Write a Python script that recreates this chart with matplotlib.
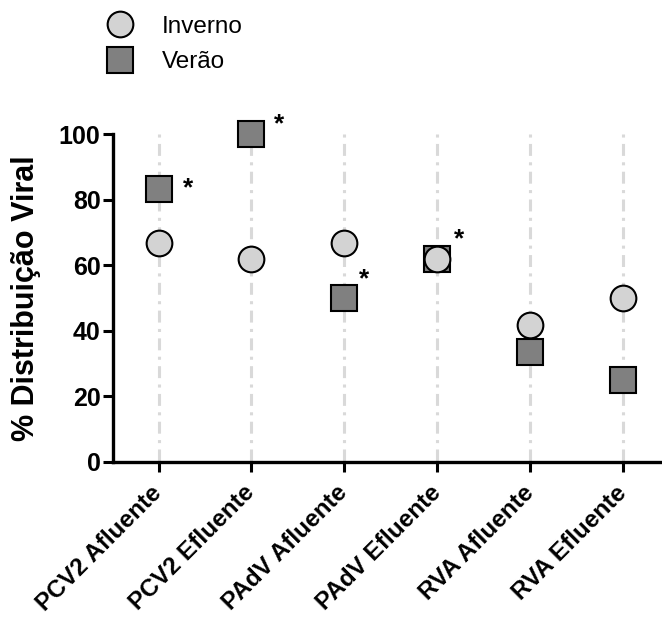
import matplotlib

matplotlib.use("Agg")
import matplotlib.pyplot as plt
from matplotlib.lines import Line2D

plt.rcParams["font.family"] = ["Liberation Sans", "DejaVu Sans"]
plt.rcParams["lines.scale_dashes"] = False

# % de distribuição viral por amostra e estação
categorias = ["PCV2 Afluente", "PCV2 Efluente", "PAdV Afluente",
              "PAdV Efluente", "RVA Afluente", "RVA Efluente"]
inverno = [66.7, 61.9, 66.7, 61.9, 41.7, 50.0]
verao = [83.3, 100.0, 50.0, 61.9, 33.3, 25.0]
# diferença significativa (*) no verão
signif = [True, True, True, True, False, False]
star_offsets = [(21, 0), (20, 7), (14, 13), (16, 14)]  # pontos

x = list(range(len(categorias)))

fig = plt.figure(figsize=(6.62, 6.19), dpi=100)
ax = fig.add_axes([0.1707, 0.2544, 0.8293, 0.5291])

# linhas guia traço-ponto em cada categoria
ax.vlines(x, 100, 0, colors="#d9d9d9", linewidth=2.2,
          linestyles=[(0, (2.2, 4.6, 8.6, 4.6))], zorder=1)

ax.plot(x, verao, ls="none", marker="s", ms=18.5, mfc="#808080", mec="black",
        mew=1.5, clip_on=False, zorder=3)
ax.plot(x, inverno, ls="none", marker="o", ms=18.5, mfc="#d3d3d3", mec="black",
        mew=1.5, clip_on=False, zorder=4)

k = 0
for xi, yi, s in zip(x, verao, signif):
    if s:
        ax.annotate("*", (xi, yi), xytext=star_offsets[k], textcoords="offset points",
                    ha="center", va="center", fontsize=19, fontweight="bold",
                    annotation_clip=False)
        k += 1

ax.set_xlim(-0.49, 5.42)
ax.set_ylim(0, 100)
ax.set_yticks([0, 20, 40, 60, 80, 100])
ax.set_xticks(x)
ax.set_xticklabels(categorias, rotation=45, ha="right", va="center",
                   rotation_mode="anchor")
for lab in ax.get_xticklabels():
    lab.set_fontsize(17.5)
    lab.set_fontweight("bold")
for lab in ax.get_yticklabels():
    lab.set_fontsize(18)
    lab.set_fontweight("bold")
ax.tick_params(width=2.2, length=7, pad=2)
ax.tick_params(axis="x", pad=13)
ax.spines["top"].set_visible(False)
ax.spines["right"].set_visible(False)
ax.spines["left"].set_linewidth(2.4)
ax.spines["bottom"].set_linewidth(2.4)
ax.set_ylabel("% Distribuição Viral", fontsize=22, fontweight="bold", labelpad=13)

handles = [
    Line2D([], [], ls="none", marker="o", ms=18.5, mfc="#d3d3d3", mec="black", mew=1.5),
    Line2D([], [], ls="none", marker="s", ms=18.5, mfc="#808080", mec="black", mew=1.5),
]
fig.legend(handles, ["Inverno", "Verão"], loc="upper left",
           bbox_to_anchor=(0.12, 1.01), frameon=False, fontsize=17.5,
           handlelength=1.5, handletextpad=1.0, labelspacing=0.55)

fig.savefig("out.png", dpi=100)
